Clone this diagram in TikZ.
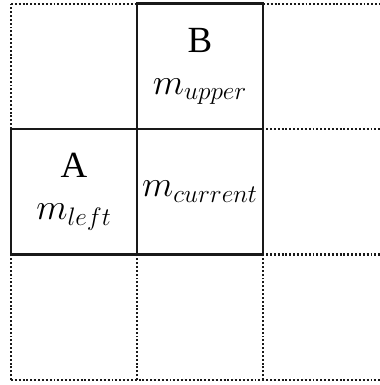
\documentclass[tikz,border=0pt]{standalone}
\usepackage{fontspec}
\setmainfont{Liberation Serif}
\usetikzlibrary{positioning}
\tikzset{
  cell box/.style={
    draw=black!90,
    line width=1.4pt,
    minimum width=2.52cm,
    minimum height=2.51cm,
    outer sep=0pt,
    inner sep=0pt,
    align=center,
    font=\fontsize{21}{24}\selectfont
  },
  grid line/.style={
    draw=black!90,
    line width=1.2pt,
    dash pattern=on 1.1pt off 1.1pt
  }
}
\begin{document}
\begin{tikzpicture}
    % Rahmen des Bildes
    \useasboundingbox (0,0) rectangle (7.6,7.7);

    % gepunktetes Raster
    \foreach \x in {0.22,2.74,5.26} {
      \draw[grid line] (\x,0.1) -- (\x,2.61);
    }
    \draw[grid line] (0.22,5.12) -- (0.22,7.62);
    \foreach \y in {0.1,2.61,5.12} {
      \draw[grid line] (0.22,\y) -- (7.6,\y);
    }
    \draw[grid line] (0.22,7.62) -- (2.74,7.62);
    \draw[grid line] (5.26,7.62) -- (7.6,7.62);

    % Nachbarzellen
    \node[cell box] (current) at (4.0,3.865) {$m_{current}$};
    \node[cell box, left=0pt of current] (left) {A\\$m_{left}$};
    \node[cell box, above=0pt of current] (upper) {B\\$m_{upper}$};

  \end{tikzpicture}
\end{document}
